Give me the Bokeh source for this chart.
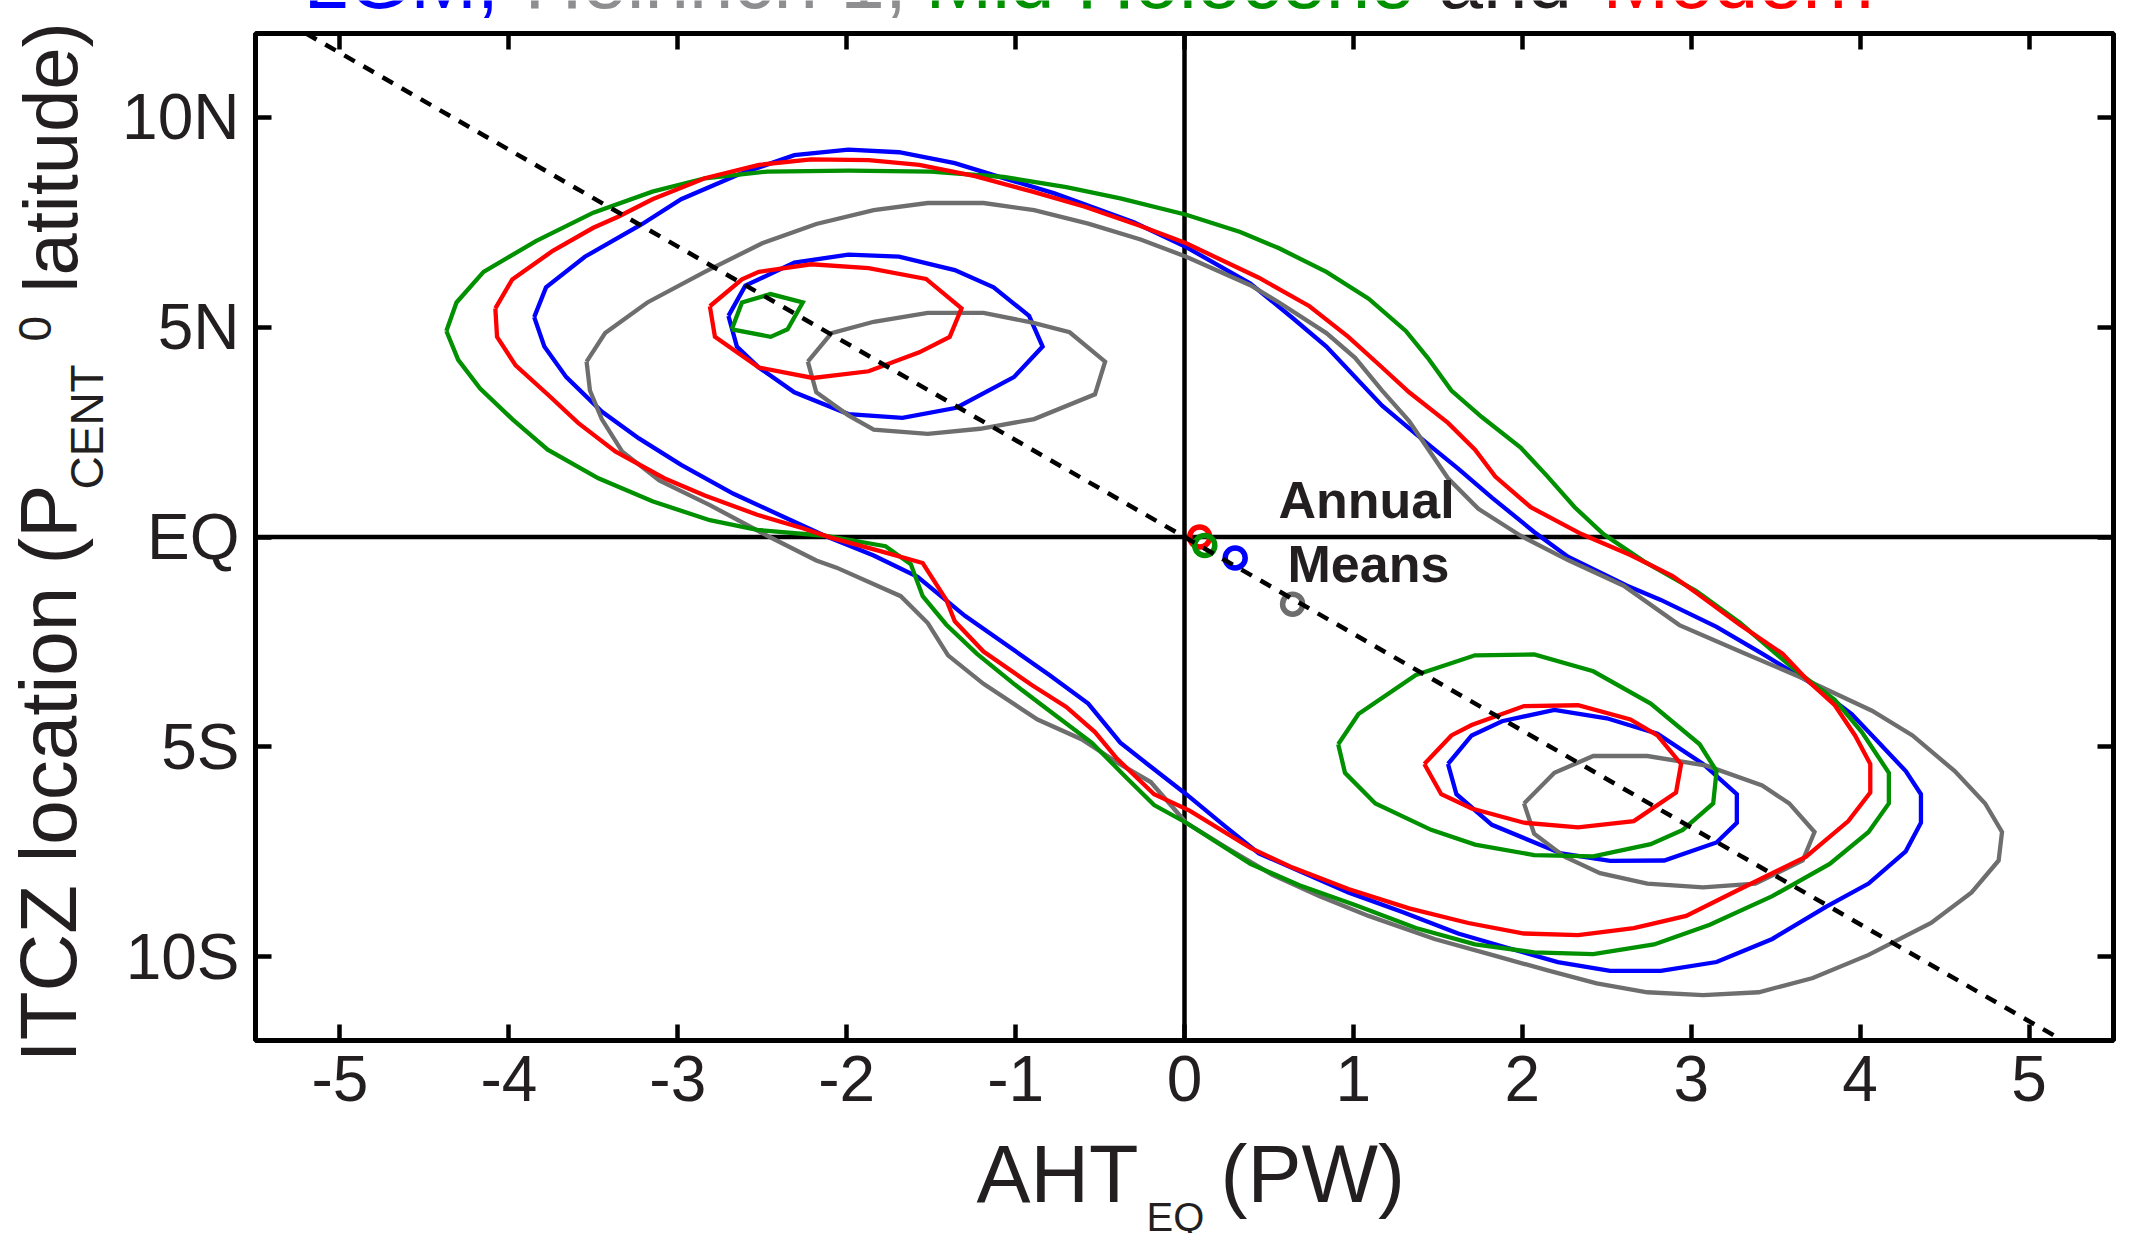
from math import pi
from bokeh.plotting import figure
from bokeh.models import FixedTicker, LinearAxis, Range1d, Span
from bokeh.layouts import row, column
from bokeh.core.properties import value
from bokeh.embed import file_html
from bokeh.resources import INLINE

# ---------------- data (AHT_EQ in PW, ITCZ latitude in degrees) ----------------
x_ticks = [-5, -4, -3, -2, -1, 0, 1, 2, 3, 4, 5]
x_tick_labels = ["-5", "-4", "-3", "-2", "-1", "0", "1", "2", "3", "4", "5"]
y_ticks = [-10, -5, 0, 5, 10]
y_tick_labels = ["10S", "5S", "EQ", "5N", "10N"]

title_words = ["LGM,", "Heinrich 1,", "Mid Holocene", "and", "Modern"]

lgm_outer = [(-3.85, 5.24), (-3.78, 5.95), (-3.55, 6.68), (-3.21, 7.46), (-2.98, 8.05), (-2.64, 8.64),
             (-2.31, 9.10), (-1.99, 9.23), (-1.69, 9.17), (-1.36, 8.91), (-1.11, 8.60), (-0.77, 8.19),
             (-0.30, 7.50), (0.01, 6.91), (0.39, 6.04), (0.64, 5.22), (0.84, 4.54), (1.17, 3.13),
             (1.44, 2.22), (1.62, 1.63), (1.82, 0.94), (2.07, 0.12), (2.27, -0.47), (2.62, -1.16),
             (2.82, -1.50), (3.15, -2.14), (3.42, -2.78), (3.70, -3.46), (3.95, -4.22), (4.11, -4.90),
             (4.27, -5.58), (4.36, -6.13), (4.36, -6.81), (4.27, -7.49), (4.05, -8.26), (3.80, -8.81),
             (3.48, -9.58), (3.15, -10.13), (2.82, -10.34), (2.52, -10.34), (2.21, -10.13), (1.91, -9.79),
             (1.62, -9.45), (1.29, -8.94), (0.97, -8.47), (0.68, -7.96), (0.44, -7.54), (0.23, -6.86),
             (0.01, -6.13), (-0.22, -5.41), (-0.38, -4.90), (-0.57, -3.97), (-0.80, -3.29), (-1.04, -2.61),
             (-1.30, -1.88), (-1.58, -0.95), (-1.84, -0.44), (-2.13, 0.03), (-2.33, 0.40), (-2.67, 1.03),
             (-2.98, 1.72), (-3.23, 2.35), (-3.45, 2.99), (-3.66, 3.81), (-3.79, 4.54)]
lgm_nw = [(-2.70, 5.27), (-2.60, 5.99), (-2.31, 6.54), (-1.99, 6.73), (-1.69, 6.68), (-1.36, 6.36),
          (-1.13, 5.95), (-0.92, 5.27), (-0.84, 4.54), (-1.01, 3.81), (-1.35, 3.08), (-1.67, 2.84),
          (-1.99, 2.93), (-2.31, 3.45), (-2.52, 4.04), (-2.65, 4.54)]
lgm_se = [(1.56, -5.41), (1.70, -4.73), (1.88, -4.39), (2.19, -4.12), (2.50, -4.32), (2.80, -4.69),
          (3.07, -5.41), (3.27, -6.13), (3.27, -6.81), (3.15, -7.28), (2.84, -7.71), (2.52, -7.72),
          (2.23, -7.54), (1.82, -6.86), (1.61, -6.13)]

h1_outer = [(-3.54, 4.18), (-3.43, 4.86), (-3.18, 5.59), (-2.84, 6.32), (-2.50, 7.00), (-2.18, 7.46),
            (-1.84, 7.79), (-1.52, 7.96), (-1.19, 7.96), (-0.89, 7.79), (-0.57, 7.47), (-0.26, 7.09),
            (0.01, 6.68), (0.39, 6.00), (0.56, 5.59), (0.84, 4.86), (1.01, 4.27), (1.17, 3.49),
            (1.33, 2.76), (1.56, 1.40), (1.74, 0.67), (1.99, 0.03), (2.27, -0.55), (2.60, -1.16),
            (2.93, -2.10), (3.29, -2.73), (3.64, -3.33), (4.07, -4.14), (4.31, -4.73), (4.56, -5.58),
            (4.74, -6.35), (4.84, -7.03), (4.82, -7.71), (4.66, -8.47), (4.42, -9.20), (4.05, -9.96),
            (3.72, -10.51), (3.40, -10.85), (3.07, -10.92), (2.74, -10.85), (2.44, -10.64), (2.15, -10.33),
            (1.82, -9.96), (1.48, -9.58), (1.09, -9.03), (0.80, -8.56), (0.52, -8.05), (0.25, -7.41),
            (0.01, -6.81), (-0.20, -5.84), (-0.40, -5.37), (-0.61, -4.82), (-0.87, -4.35), (-1.19, -3.50),
            (-1.40, -2.82), (-1.52, -2.05), (-1.68, -1.41), (-2.06, -0.73), (-2.18, -0.56), (-2.47, 0.03),
            (-2.81, 0.76), (-3.11, 1.35), (-3.33, 2.04), (-3.45, 2.81), (-3.52, 3.49)]
h1_nw = [(-2.23, 4.18), (-2.09, 4.86), (-1.84, 5.13), (-1.52, 5.34), (-1.19, 5.34), (-0.90, 5.11),
         (-0.68, 4.88), (-0.47, 4.18), (-0.53, 3.40), (-0.89, 2.81), (-1.21, 2.58), (-1.52, 2.46),
         (-1.84, 2.56), (-1.99, 2.90), (-2.18, 3.45)]
h1_se = [(2.01, -6.35), (2.19, -5.62), (2.42, -5.22), (2.74, -5.22), (3.09, -5.45), (3.42, -5.92),
         (3.58, -6.35), (3.73, -7.03), (3.66, -7.71), (3.38, -8.26), (3.07, -8.35), (2.74, -8.26),
         (2.46, -8.01), (2.25, -7.62), (2.07, -7.07)]

mh_outer = [(-4.37, 4.91), (-4.31, 5.59), (-4.15, 6.32), (-3.84, 7.05), (-3.50, 7.73), (-3.15, 8.23),
            (-2.84, 8.55), (-2.47, 8.71), (-1.99, 8.73), (-1.50, 8.71), (-1.07, 8.58), (-0.70, 8.34),
            (-0.38, 8.07), (0.01, 7.68), (0.33, 7.27), (0.56, 6.88), (0.84, 6.32), (1.09, 5.68),
            (1.31, 4.91), (1.44, 4.27), (1.58, 3.49), (1.76, 2.86), (1.99, 2.13), (2.15, 1.44),
            (2.31, 0.71), (2.48, 0.07), (2.72, -0.58), (3.03, -1.29), (3.29, -2.05), (3.60, -3.12),
            (3.85, -3.88), (4.01, -4.65), (4.17, -5.62), (4.17, -6.35), (4.05, -7.03), (3.82, -7.79),
            (3.48, -8.56), (3.11, -9.24), (2.78, -9.71), (2.42, -9.94), (2.07, -9.90), (1.72, -9.71),
            (1.37, -9.32), (1.01, -8.77), (0.68, -8.30), (0.39, -7.79), (0.01, -6.81), (-0.18, -6.39),
            (-0.36, -5.67), (-0.55, -4.90), (-0.80, -4.14), (-1.01, -3.50), (-1.23, -2.78), (-1.41, -2.09),
            (-1.55, -1.41), (-1.62, -0.65), (-1.77, -0.22), (-2.13, 0.03), (-2.53, 0.17), (-2.81, 0.40),
            (-3.15, 0.85), (-3.47, 1.40), (-3.77, 2.08), (-3.98, 2.81), (-4.17, 3.54), (-4.30, 4.22)]
mh_nw = [(-2.68, 4.95), (-2.62, 5.59), (-2.45, 5.79), (-2.26, 5.59), (-2.35, 4.95), (-2.45, 4.77)]
mh_se = [(0.91, -4.94), (1.03, -4.22), (1.37, -3.29), (1.72, -2.82), (2.07, -2.80), (2.42, -3.20),
         (2.76, -3.97), (3.05, -4.94), (3.15, -5.58), (3.13, -6.35), (2.95, -6.98), (2.76, -7.32),
         (2.42, -7.61), (2.07, -7.58), (1.72, -7.33), (1.46, -6.98), (1.13, -6.35), (0.95, -5.62)]

mod_outer = [(-4.08, 5.45), (-3.98, 6.14), (-3.74, 6.82), (-3.50, 7.37), (-3.35, 7.64), (-3.15, 8.05),
             (-2.84, 8.55), (-2.52, 8.87), (-2.21, 9.00), (-1.87, 8.98), (-1.57, 8.87), (-1.24, 8.60),
             (-0.90, 8.23), (-0.59, 7.87), (-0.26, 7.41), (0.01, 7.00), (0.44, 6.18), (0.74, 5.50),
             (0.97, 4.77), (1.17, 4.04), (1.33, 3.45), (1.56, 2.72), (1.72, 2.08), (1.84, 1.44),
             (2.05, 0.71), (2.35, 0.07), (2.64, -0.43), (2.89, -0.93), (3.03, -1.33), (3.29, -2.10),
             (3.54, -2.78), (3.70, -3.46), (3.85, -4.01), (3.97, -4.73), (4.06, -5.41), (4.06, -6.09),
             (3.93, -6.77), (3.68, -7.62), (3.29, -8.39), (2.97, -9.03), (2.66, -9.32), (2.33, -9.49),
             (2.01, -9.45), (1.68, -9.20), (1.33, -8.85), (0.97, -8.39), (0.64, -7.88), (0.39, -7.41),
             (0.03, -6.52), (-0.18, -6.13), (-0.40, -5.28), (-0.53, -4.65), (-0.70, -4.05), (-0.90, -3.54),
             (-1.19, -2.73), (-1.36, -2.01), (-1.41, -1.50), (-1.55, -0.62), (-1.79, -0.35), (-2.09, -0.02),
             (-2.26, 0.21), (-2.53, 0.53), (-2.84, 0.99), (-3.08, 1.40), (-3.37, 2.04), (-3.59, 2.72),
             (-3.76, 3.36), (-3.96, 4.09), (-4.07, 4.77)]
mod_nw = [(-2.81, 5.50), (-2.62, 6.14), (-2.52, 6.32), (-2.21, 6.50), (-1.87, 6.41), (-1.53, 6.15),
          (-1.32, 5.45), (-1.39, 4.77), (-1.57, 4.40), (-1.87, 3.95), (-2.20, 3.79), (-2.52, 4.04),
          (-2.78, 4.77)]
mod_se = [(1.42, -5.41), (1.58, -4.73), (1.70, -4.48), (2.01, -4.03), (2.33, -4.01), (2.64, -4.35),
          (2.80, -4.73), (2.94, -5.41), (2.91, -6.09), (2.66, -6.77), (2.33, -6.92), (2.01, -6.81),
          (1.70, -6.47), (1.52, -6.13)]

# annual means (AHT_EQ, ITCZ latitude)
mean_lgm = (0.30, -0.50)
mean_h1 = (0.64, -1.60)
mean_mh = (0.12, -0.20)
mean_mod = (0.09, 0.00)

# dashed reference line end points
fit_x = [-5.20, 5.20]
fit_y = [12.0, -12.0]

# ---------------- styling / layout ----------------
BLUE, GREY, GREEN, RED = "#0000FF", "#6E6E6E", "#009000", "#FF0000"
TITLE_GREY = "#8E8E90"
INK = "#231F20"
FONT = "Liberation Sans"
MID = 0.3465      # baseline offset of a "middle"-anchored text, in em
DESC = 0.212      # descent, in em

W, H = 2132, 1233
YLAB_W = 110                 # strip for the rotated y label
TITLE_H = 27                 # strip for the (cut) title
XLAB_TOP = 1140              # strip for the x label starts here
FL, FR, FT, FB = 255, 2113, 33, 1040      # frame edges in page pixels
XMIN, XMAX, YMIN, YMAX = -5.5, 5.5, -12.0, 12.0
XS = (FR - FL) / (XMAX - XMIN)
YS = (FB - FT) / (YMAX - YMIN)


def px2x(px):
    return XMIN + (px - FL) / XS


def py2y(py):
    return YMAX - (py - FT) / YS


MAIN_W = W - YLAB_W
MAIN_H = XLAB_TOP - TITLE_H

p = figure(width=MAIN_W, height=MAIN_H, x_range=Range1d(XMIN, XMAX), y_range=Range1d(YMIN, YMAX),
           output_backend="svg", toolbar_location=None,
           min_border_left=FL - YLAB_W, min_border_right=W - FR,
           min_border_top=FT - TITLE_H, min_border_bottom=XLAB_TOP - FB)
p.grid.visible = False
p.background_fill_color = "white"
p.border_fill_color = "white"
p.outline_line_color = "black"
p.outline_line_width = 5
p.outline_line_alpha = 1.0


def style_axis(ax, ticks, labels, show_labels, standoff):
    ax.ticker = FixedTicker(ticks=ticks)
    ax.major_label_overrides = {t: (s if show_labels else "") for t, s in zip(ticks, labels)}
    ax.axis_line_color = None
    ax.major_tick_in = 16
    ax.major_tick_out = 0
    ax.major_tick_line_width = 4.5
    ax.major_tick_line_color = "black"
    ax.minor_tick_line_color = None
    ax.major_label_text_font = FONT
    ax.major_label_text_color = INK
    ax.major_label_standoff = standoff
    ax.major_label_text_font_size = "64px"


style_axis(p.xaxis[0], x_ticks, x_tick_labels, True, 15)
style_axis(p.yaxis[0], y_ticks, y_tick_labels, True, 16)
top_ax = LinearAxis()
right_ax = LinearAxis()
style_axis(top_ax, x_ticks, x_tick_labels, False, 0)
style_axis(right_ax, y_ticks, y_tick_labels, False, 0)
p.add_layout(top_ax, "above")
p.add_layout(right_ax, "right")

# zero lines
p.add_layout(Span(location=0, dimension="height", line_color="black", line_width=4.5, level="underlay"))
p.add_layout(Span(location=0, dimension="width", line_color="black", line_width=4.5, level="underlay"))


def loop(pts):
    xs = [a for a, b in pts] + [pts[0][0]]
    ys = [b for a, b in pts] + [pts[0][1]]
    return xs, ys


for contours, col in [((lgm_outer, lgm_nw, lgm_se), BLUE),
                      ((h1_outer, h1_nw, h1_se), GREY),
                      ((mh_outer, mh_nw, mh_se), GREEN),
                      ((mod_outer, mod_nw, mod_se), RED)]:
    xs_list, ys_list = [], []
    for c in contours:
        xs, ys = loop(c)
        xs_list.append(xs)
        ys_list.append(ys)
    p.multi_line(xs_list, ys_list, line_color=col, line_width=4.3, line_join="miter")

for (mx, my), col in [(mean_mod, RED), (mean_mh, GREEN), (mean_lgm, BLUE), (mean_h1, GREY)]:
    p.scatter([mx], [my], marker="circle", size=20, fill_color=None, line_color=col, line_width=5.5)

p.line(fit_x, fit_y, line_color="black", line_width=4.5, line_dash="12 10")

# "Annual Means" note (baseline y in page pixels -> middle anchor)
for txt, xpx, base in [("Annual", 1278, 518), ("Means", 1287, 582)]:
    p.text(x=[px2x(xpx)], y=[py2y(base - MID * 52)], text=[txt], text_font=value(FONT),
           text_font_size=value("52px"), text_font_style=value("bold"), text_color=INK,
           text_align="left", text_baseline="middle")


def text_fig(w, h, xr):
    f = figure(width=w, height=h, x_range=xr, y_range=Range1d(0, h),
               output_backend="svg", toolbar_location=None, min_border=0,
               x_axis_type=None, y_axis_type=None)
    f.outline_line_color = None
    f.grid.visible = False
    f.background_fill_color = "white"
    f.border_fill_color = "white"
    return f


# title strip (its frame is aligned with the main frame by the column layout;
# the text runs off the top of the page, as in the original)
tfig = text_fig(MAIN_W, TITLE_H, Range1d(XMIN, XMAX))
for word, col, xpx in zip(title_words, [BLUE, TITLE_GREY, GREEN, INK, RED], [303, 524, 925, 1438, 1602]):
    base = 8
    tfig.text(x=[px2x(xpx)], y=[TITLE_H - (base + DESC * 80)], text=[word], text_font=value(FONT),
              text_font_size=value("80px"), text_color=col, text_align="left", text_baseline="bottom")

# x label strip: AHT_EQ (PW)
XLAB_H = H - XLAB_TOP
xfig = text_fig(MAIN_W, XLAB_H, Range1d(XMIN, XMAX))
for txt, xpx, base, size in [("AHT", 976, 1202, 81), ("EQ", 1146, 1230, 40), ("(PW)", 1220, 1202, 81)]:
    xfig.text(x=[px2x(xpx)], y=[XLAB_H - (base - XLAB_TOP - MID * size)], text=[txt],
              text_font=value(FONT), text_font_size=value(f"{size}px"), text_color=INK,
              text_align="left", text_baseline="middle")

# y label strip (rotated): ITCZ location (P_CENT ^0 latitude)
yfig = text_fig(YLAB_W, H, Range1d(0, YLAB_W))
for txt, basex, starty, size in [("ITCZ location (P", 76, 1062, 80), ("CENT", 102, 489, 46),
                                 ("0", 50, 341, 46), ("latitude)", 76, 292, 76)]:
    yfig.text(x=[basex - MID * size], y=[H - starty], text=[txt], angle=pi / 2,
              text_font=value(FONT), text_font_size=value(f"{size}px"), text_color=INK,
              text_align="left", text_baseline="middle")

layout = row(yfig, column(tfig, p, xfig, spacing=0), spacing=0)

open("out.html", "w").write(file_html(layout, INLINE))
